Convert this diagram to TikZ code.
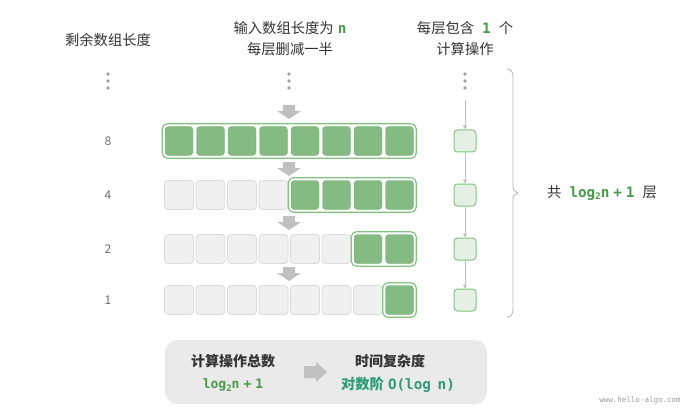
\documentclass[tikz,border=0pt]{standalone}
\usepackage{fontspec}
\usepackage{tikz}
\usetikzlibrary{arrows.meta,positioning,fit,calc}
\newfontfamily\cjk{Noto Sans CJK SC}
\newfontfamily\codefont{DejaVu Sans Mono}
\definecolor{textInk}{RGB}{51,51,51}
\definecolor{numGray}{RGB}{110,110,110}
\definecolor{cellGreen}{RGB}{131,187,131}
\definecolor{cellGray}{RGB}{240,240,240}
\definecolor{edgeGray}{RGB}{218,218,218}
\definecolor{lineGreen}{RGB}{128,196,128}
\definecolor{opFill}{RGB}{228,240,228}
\definecolor{codeGreen}{RGB}{70,155,70}
\definecolor{codeTeal}{RGB}{45,155,120}
\definecolor{arrowGray}{RGB}{192,192,192}
\definecolor{dotGray}{RGB}{160,160,160}
\definecolor{panelGray}{RGB}{234,234,234}
\newcommand{\logtwo}{log\raisebox{-2.5pt}{\fontsize{9}{9}\selectfont 2}n}
\newcommand{\gap}{\hspace{4pt}}

\begin{document}
\begin{tikzpicture}[x=1pt,y=-1pt,
      font=\cjk\fontsize{14.3}{17}\selectfont, text=textInk,
      lbl/.style={inner sep=0pt},
      num/.style={inner sep=0pt,text=numGray,font=\cjk\fontsize{12}{14}\selectfont},
      code/.style={font=\codefont\bfseries\fontsize{13}{16}\selectfont},
      cellon/.style={rectangle,rounded corners=3.5pt,minimum width=28pt,minimum height=29pt,
                     inner sep=0pt,fill=cellGreen,draw=cellGreen!85!black!90,line width=0.4pt},
      celloff/.style={rectangle,rounded corners=3.5pt,minimum width=29pt,minimum height=29pt,
                      inner sep=0pt,fill=cellGray,draw=edgeGray,line width=0.8pt},
      wrap/.style={rectangle,rounded corners=5pt,draw=lineGreen,line width=1.2pt,inner sep=2.5pt},
      opbox/.style={rectangle,rounded corners=3.5pt,minimum width=22pt,minimum height=22pt,
                    inner sep=0pt,fill=opFill,draw=lineGreen,line width=1pt},
      dnarrow/.pic={\fill[arrowGray] (-6,-7) -- (6,-7) -- (6,-1) -- (12,-1) -- (0,7)
                    -- (-12,-1) -- (-6,-1) -- cycle;},
      rtarrow/.pic={\fill[arrowGray] (-12,-6) -- (0,-6) -- (0,-10) -- (11,0) -- (0,10)
                    -- (0,6) -- (-12,6) -- cycle;},
      ln/.style={draw=arrowGray,line width=0.8pt,-{Triangle[length=4pt,width=4pt]}},
      dot/.style={circle,fill=dotGray,inner sep=0pt,minimum size=3.6pt}]

    \useasboundingbox (0,0) rectangle (692,414);

    % headers
    \node[lbl] (hleft) at (108,40) {剩余数组长度};
    \node[lbl] (hmid1) at (290,28) {输入数组长度为\gap{\codefont\bfseries\color{codeGreen}n}};
    \node[lbl] (hmid2) at (290,49) {每层删减一半};
    \node[lbl] (hright1) at (465,28) {每层包含\gap\gap{\codefont\bfseries\color{codeGreen}1}\gap\gap 个};
    \node[lbl] (hright2) at (465,49) {计算操作};

    % dots
    \foreach \x in {108,289,465}
      \foreach \y in {74,81,88}
        \node[dot] at (\x,\y) {};

    % rows of cells
    \foreach \r/\y/\g/\n in {0/141/0/8, 1/195/4/4, 2/249/6/2, 3/300/7/1} {
      \node[num] (n\r) at (108,\y) {\n};
      \foreach \i in {0,...,7} {
        \ifnum\i<\g
          \node[celloff] (c\r-\i) at ({179+31.5*\i},\y) {};
        \else
          \node[cellon] (c\r-\i) at ({179+31.5*\i},\y) {};
        \fi
      }
      \node[wrap,fit=(c\r-\g)(c\r-7)] (w\r) {};
      \node[opbox] (op\r) at (465,\y) {};
    }

    % halving arrows
    \pic at (289,112) {dnarrow};
    \pic at (289,169) {dnarrow};
    \pic at (289,223) {dnarrow};
    \pic at (289,274) {dnarrow};

    % operation chain
    \coordinate (optop) at (465,100);
    \draw[ln] (optop) -- (op0.north);
    \draw[ln] (op0) -- (op1);
    \draw[ln] (op1) -- (op2);
    \draw[ln] (op2) -- (op3);

    % brace
    \draw[edgeGray!85!black,line width=0.9pt]
      (507,69) .. controls (511,69) and (513,72) .. (513,77) -- (513,187)
      .. controls (513,190) .. (518,193) .. controls (513,196) .. (513,199)
      -- (513,309) .. controls (513,314) and (511,317) .. (507,317);
    \node[lbl,anchor=west] (total) at (547,193)
      {共\gap\gap{\codefont\bfseries\color{codeGreen}\logtwo\gap+\gap1}\gap\gap 层};

    % summary panel
    \node[rectangle,rounded corners=12pt,fill=panelGray,minimum width=322pt,
          minimum height=64pt,inner sep=0pt] (panel) at (326,372) {};
    \node[lbl,font=\cjk\bfseries\fontsize{14}{16}\selectfont] (ops) at (233,361) {计算操作总数};
    \node[lbl,code,text=codeGreen] (opsv) at (233,385) {\logtwo\gap+\gap1};
    \pic at (316,372) {rtarrow};
    \node[lbl,font=\cjk\bfseries\fontsize{14}{16}\selectfont] (tc) at (390,361) {时间复杂度};
    \node[lbl,text=codeTeal] (tcv) at (398,385)
      {{\cjk\bfseries 对数阶}\gap{\codefont\bfseries O(log\hspace{-2pt} n)}};

    \node[lbl,text=arrowGray!80!black,font=\codefont\fontsize{7.5}{9}\selectfont] (wm) at (640,400)
      {www.hello-algo.com};
  \end{tikzpicture}
\end{document}
